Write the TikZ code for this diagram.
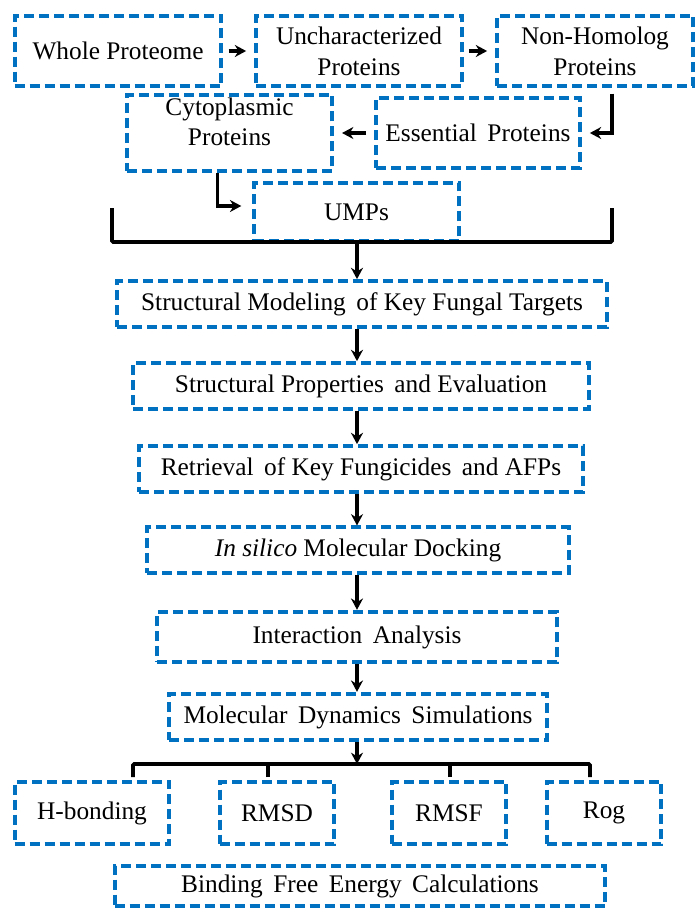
\documentclass[tikz,border=0pt]{standalone}
\usepackage{fontspec}
\setmainfont{Liberation Serif}
\usepackage{tikz}
\usetikzlibrary{arrows.meta}
\usetikzlibrary{calc}
\usetikzlibrary{positioning}
\definecolor{boxblue}{RGB}{0,112,192}

\begin{document}
\begin{tikzpicture}[x=0.75pt, y=-0.75pt, >={Stealth[length=8.5pt,width=9pt]},
  font=\fontsize{19}{23}\selectfont,
  every box/.style={draw=boxblue, line width=2.8pt, dash pattern=on 7.5pt off 3.75pt,
    align=center, inner sep=2pt},
  flow/.style={->, line width=2.8pt},
  bus/.style={line width=2.8pt, rounded corners=1pt},
  analysis 1/.style={minimum width=116pt},
  every analysis/.style={every box, minimum width=86pt, minimum height=47pt}]

\useasboundingbox (0,0) rectangle (695,911);

% screening of the proteome
\node [every box, minimum width=155pt, minimum height=53pt] (whole) at (118,51) {Whole Proteome};
\node [every box, minimum width=154.5pt, minimum height=53pt] (uncharacterized) at (359,51) {Uncharacterized\\Proteins};
\node [every box, minimum width=147pt, minimum height=53pt] (nonhomolog) at (595,51) {Non-Homolog\\Proteins};
\node [every box, minimum width=153pt, minimum height=52.5pt] (essential) at (478,133) {Essential\, Proteins};
\node [every box, minimum width=154pt, minimum height=52.5pt, text depth=17pt] (cytoplasmic) at (229.5,133) {Cytoplasmic\\Proteins};
\node [every box, minimum width=154pt, minimum height=43.5pt] (umps) at (356.5,212) {UMPs};

\draw [flow, shorten <=4pt, shorten >=6pt] (whole) -- (uncharacterized);
\draw [flow, shorten <=4pt, shorten >=6pt] (uncharacterized) -- (nonhomolog);
\draw [flow, shorten <=4pt, shorten >=6pt] ($(nonhomolog.south)+(17,0)$) |- (essential.east);
\draw [flow, shorten <=6pt, shorten >=6pt] (essential) -- (cytoplasmic);
\draw [flow, shorten >=8pt] ($(cytoplasmic.south)+(-12,0)$) |- ($(umps.west)+(0,-6)$);

% bracket
\coordinate (bracket-l) at (112,208);
\coordinate (bracket-r) at (612,208);
\coordinate (stem) at (357,242);
\draw [bus] (bracket-l) -- ++(0,34) -| (bracket-r);

% main pipeline
\node [every box, minimum width=367.5pt, minimum height=34.5pt] (modeling) at (362,304) {Structural Modeling\, of Key Fungal Targets};
\node [every box, minimum width=342pt, minimum height=34.5pt] (properties) at (361,386) {Structural Properties\, and Evaluation};
\node [every box, minimum width=333pt, minimum height=34.5pt] (retrieval) at (361,469) {Retrieval\, of Key Fungicides\, and AFPs};
\node [every box, minimum width=316.5pt, minimum height=34pt] (docking) at (358,550) {\textit{In silico} Molecular Docking};
\node [every box, minimum width=300pt, minimum height=38pt] (interaction) at (357,637) {Interaction\, Analysis};
\node [every box, minimum width=283pt, minimum height=35pt] (dynamics) at (358,717) {Molecular\, Dynamics\, Simulations};

\draw [flow] (stem) -- (modeling.north -| stem);
\foreach \a/\b in {modeling/properties, properties/retrieval, retrieval/docking,
  docking/interaction, interaction/dynamics}
  \draw [flow] (\a.south -| stem) -- (\b.north -| stem);

% trajectory analyses
\foreach \m/\x [count=\i] in {H-bonding/92, RMSD/277, RMSF/449, Rog/604}
  \node [every analysis/.try, analysis \i/.try] (analysis-\i) at (\x,813) {\m};

\foreach \x [count=\i] in {133,268,450,590}
  \coordinate (branch-\i) at (\x,777);
\coordinate (fork) at (357,764);

\draw [flow] (dynamics.south -| stem) -- (fork);
\draw [bus] (branch-1) -- ++(0,-13) -| (branch-4);
\draw [bus] (branch-2) -- ++(0,-13);
\draw [bus] (branch-3) -- ++(0,-13);

\node [every box, minimum width=368pt, minimum height=30pt] (binding) at (360,886) {Binding\, Free\, Energy\, Calculations};

\end{tikzpicture}
\end{document}
